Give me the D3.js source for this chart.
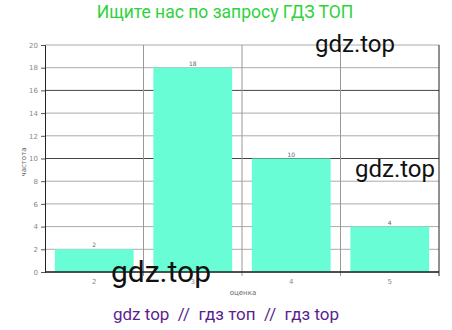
<!DOCTYPE html>
<html><head><meta charset="utf-8">
<script src="https://cdn.jsdelivr.net/npm/d3@7"></script>
<style>body{margin:0;background:#fff}svg{display:block}</style>
</head><body>
<svg id="c" width="452" height="330"></svg>
<script>
const categories = ["2", "3", "4", "5"];
const values = [2, 18, 10, 4];
const yTicks = [0, 2, 4, 6, 8, 10, 12, 14, 16, 18, 20];
const darkGrid = [10, 16];

const svg = d3.select("#c");
const m = {l: 45, r: 439, t: 45, b: 272};
const x = d3.scaleBand().domain(categories).range([m.l, m.r]).paddingInner(0.2).paddingOuter(0.1);
const xb = d3.scaleBand().domain(categories).range([m.l, m.r]);
const y = d3.scaleLinear().domain([0, 20]).range([m.b, m.t]);

// horizontal grid
svg.append("g").selectAll("line").data(yTicks).join("line")
  .attr("x1", m.l).attr("x2", m.r).attr("y1", d => y(d)).attr("y2", d => y(d))
  .attr("stroke", d => darkGrid.includes(d) ? "#444" : "#aaa").attr("stroke-width", 1);
// vertical grid at band boundaries
svg.append("g").selectAll("line").data(categories.slice(1)).join("line")
  .attr("x1", d => xb(d)).attr("x2", d => xb(d)).attr("y1", m.t).attr("y2", m.b + 4)
  .attr("stroke", "#999");

// bars
svg.append("g").selectAll("rect").data(values).join("rect")
  .attr("x", (d, i) => x(categories[i])).attr("width", x.bandwidth())
  .attr("y", d => y(d)).attr("height", d => y(0) - y(d))
  .attr("fill", "#69fdd6");

// value labels
svg.append("g").selectAll("text").data(values).join("text")
  .attr("x", (d, i) => x(categories[i]) + x.bandwidth() / 2).attr("y", d => y(d) - 2)
  .attr("text-anchor", "middle").attr("font-family", "DejaVu Sans").attr("font-size", 6)
  .attr("fill", "#666").text(d => d);

// axes
const yAxis = d3.axisLeft(y).tickValues(yTicks).tickSize(4).tickPadding(3);
const gy = svg.append("g").attr("transform", `translate(${m.l},0)`).call(yAxis);
gy.select(".domain").attr("stroke", "#222");
gy.selectAll(".tick line").attr("stroke", "#555");
gy.selectAll("text").attr("font-family", "DejaVu Sans").attr("font-size", 7).attr("fill", "#888");

const xAxis = d3.axisBottom(x).tickSize(0).tickPadding(7);
const gx = svg.append("g").attr("transform", `translate(0,${m.b})`).call(xAxis);
gx.select(".domain").remove();
gx.selectAll("text").attr("font-family", "DejaVu Sans").attr("font-size", 7).attr("fill", "#888");
svg.append("line").attr("x1", m.l).attr("x2", m.r).attr("y1", m.b).attr("y2", m.b).attr("stroke", "#222").attr("stroke-width", 1.5);
svg.append("line").attr("x1", m.r).attr("x2", m.r).attr("y1", m.t).attr("y2", m.b + 4).attr("stroke", "#222");

// axis titles
svg.append("text").attr("x", 243).attr("y", 295).attr("text-anchor", "middle")
  .attr("font-family", "DejaVu Sans").attr("font-size", 7).attr("fill", "#666").text("оценка");
svg.append("text").attr("transform", "translate(26,162) rotate(-90)").attr("text-anchor", "middle")
  .attr("font-family", "DejaVu Sans").attr("font-size", 7).attr("fill", "#666").text("частота");

// title
svg.append("text").attr("x", 225).attr("y", 18).attr("text-anchor", "middle")
  .attr("font-family", "Roboto").attr("font-size", 17.5).attr("fill", "#2fd23c").text("Ищите нас по запросу ГДЗ ТОП");

// watermarks
const wm = [[355, 52, 24], [395, 177, 24], [161, 282, 30]];
svg.append("g").selectAll("text").data(wm).join("text")
  .attr("x", d => d[0]).attr("y", d => d[1]).attr("text-anchor", "middle")
  .attr("font-family", "Roboto").attr("font-size", d => d[2]).attr("fill", "#111").text("gdz.top");

svg.append("text").attr("x", 226).attr("y", 320).attr("text-anchor", "middle")
  .attr("font-family", "Roboto").attr("font-size", 17).attr("fill", "#5a1f8f")
  .attr("xml:space", "preserve").style("white-space", "pre").text("gdz top  //  гдз топ  //  гдз top");
</script>
</body></html>
